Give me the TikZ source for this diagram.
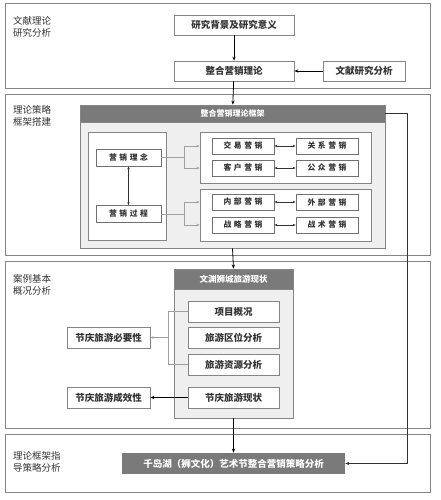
\documentclass[tikz,border=0pt]{standalone}
\usepackage{fontspec}
\setmainfont{Noto Sans CJK SC}
\usetikzlibrary{arrows.meta}
\definecolor{bord}{HTML}{858585}
\definecolor{sbord}{HTML}{707070}
\definecolor{txt}{HTML}{333333}
\definecolor{head}{HTML}{7a7a7a}
\definecolor{body}{HTML}{efefef}
\definecolor{fork}{HTML}{a0a0a0}
\newcommand{\myg}{\kern2.6pt}
\begin{document}
\begin{tikzpicture}[x=1pt,y=-1pt,
  font=\fontsize{9.5}{12}\selectfont, text=txt,
  secbox/.style={draw=bord, line width=0.8pt, rectangle, inner sep=0pt, minimum width=425pt},
  seclabel/.style={anchor=north west, align=left, inner sep=0pt, font=\fontsize{9.5}{12}\selectfont},
  wbox/.style={draw=bord, fill=white, line width=0.7pt, rectangle, inner sep=0pt, font=\fontsize{9.5}{12}\selectfont\bfseries},
  panel/.style={draw=bord, fill=body, line width=0.7pt, rectangle, inner sep=0pt},
  headbox/.style={draw=bord, fill=head, line width=0.7pt, rectangle, inner sep=0pt, text=white},
  smallbox/.style={wbox, draw=sbord, minimum width=62pt, minimum height=16pt, font=\fontsize{7.8}{9}\selectfont\bfseries},
  arr/.style={-{Stealth[length=4pt,width=3.2pt]}, line width=0.8pt, draw=black},
  garr/.style={-{Stealth[length=3.2pt,width=2.6pt]}, line width=0.9pt, draw=fork},
  darr/.style={{Stealth[length=3pt,width=2.4pt]}-{Stealth[length=3pt,width=2.4pt]}, line width=0.6pt, draw=txt},
  glin/.style={line width=0.9pt, draw=fork}
]
\useasboundingbox (0,0) rectangle (440,500);

% sections
\node[secbox, minimum height=85pt] (s1) at (217.5,45.5) {};
\node[secbox, minimum height=161pt] (s2) at (217.5,174.5) {};
\node[secbox, minimum height=167pt] (s3) at (217.5,344.5) {};
\node[secbox, minimum height=58pt] (s4) at (217.5,463) {};
\node[seclabel] (l1) at (13,16) {文献理论\\研究分析};
\node[seclabel] (l2) at (13,105) {理论策略\\框架搭建};
\node[seclabel] (l3) at (13,274) {案例基本\\概况分析};
\node[seclabel] (l4) at (13,451) {理论框架指\\导策略分析};

% section 1
\node[wbox, minimum width=120pt, minimum height=20pt] (bg) at (234,25) {研究背景及研究意义};
\node[wbox, minimum width=120pt, minimum height=20pt] (zh) at (234,71) {整合营销理论};
\node[wbox, minimum width=82pt, minimum height=20pt] (wx) at (364,71) {文献研究分析};
\draw[arr] (bg) -- (zh);
\draw[arr] (wx) -- (zh);

% section 2
\node[panel, minimum width=305pt, minimum height=143pt] (p1) at (232.5,176.5) {};
\node[headbox, minimum width=305pt, minimum height=17pt, font=\fontsize{8}{10}\selectfont\bfseries] (h1) at (232.5,113.5) {整合营销理论框架};
\node[wbox, minimum width=78pt, minimum height=108pt] (lb) at (127,186) {};
\node[wbox, draw=sbord, minimum width=65pt, minimum height=17pt, font=\fontsize{7.8}{9}\selectfont\bfseries] (ln) at (128.5,157.5) {营\myg 销\myg 理\myg 念};
\node[wbox, draw=sbord, minimum width=65pt, minimum height=17pt, font=\fontsize{7.8}{9}\selectfont\bfseries] (gc) at (128.5,214) {营\myg 销\myg 过\myg 程};
\draw[darr] (ln) -- (gc);
\node[wbox, minimum width=171pt, minimum height=51pt] (ru) at (285.5,157.5) {};
\node[wbox, minimum width=171pt, minimum height=52pt] (rl) at (285.5,215) {};
\node[smallbox] (jy) at (243,146) {交\myg 易\myg 营\myg 销};
\node[smallbox] (gx) at (327,146) {关\myg 系\myg 营\myg 销};
\node[smallbox] (kh) at (243,168) {客\myg 户\myg 营\myg 销};
\node[smallbox] (gz) at (327,168) {公\myg 众\myg 营\myg 销};
\node[smallbox] (nb) at (243,202) {内\myg 部\myg 营\myg 销};
\node[smallbox] (wb) at (327,202) {外\myg 部\myg 营\myg 销};
\node[smallbox] (zl) at (243,225) {战\myg 略\myg 营\myg 销};
\node[smallbox] (zs) at (327,225) {战\myg 术\myg 营\myg 销};
\draw[darr] (jy) -- (gx);
\draw[darr] (kh) -- (gz);
\draw[darr] (nb) -- (wb);
\draw[darr] (zl) -- (zs);
\coordinate (f1) at (184,157.5);
\coordinate (f2) at (184,214);
\draw[glin] (ln.east) -- (f1);
\draw[garr] (f1) |- (ru.west |- jy.west);
\draw[garr] (f1) |- (ru.west |- kh.west);
\draw[glin] (gc.east) -- (f2);
\draw[garr] (f2) |- (rl.west |- nb.west);
\draw[garr] (f2) |- (rl.west |- zl.west);
\draw[arr] (zh) -- (h1);

% section 3
\node[panel, minimum width=119pt, minimum height=149pt] (p2) at (233.5,343.5) {};
\node[headbox, minimum width=119pt, minimum height=20pt, font=\fontsize{8.5}{10}\selectfont\bfseries] (h2) at (233.5,279) {文渊狮城旅游现状};
\node[wbox, minimum width=91pt, minimum height=21pt] (xm) at (233.5,311.5) {项目概况};
\node[wbox, minimum width=91pt, minimum height=21pt] (qw) at (233.5,338) {旅游区位分析};
\node[wbox, minimum width=91pt, minimum height=21pt] (zy) at (233.5,364.5) {旅游资源分析};
\node[wbox, minimum width=91pt, minimum height=21pt] (xz) at (233.5,397.5) {节庆旅游现状};
\node[wbox, minimum width=83pt, minimum height=21pt] (by) at (108.5,337.5) {节庆旅游必要性};
\node[wbox, minimum width=83pt, minimum height=21pt] (cx) at (108.5,397.5) {节庆旅游成效性};
\coordinate (f3) at (168,311.5);
\coordinate (f4) at (168,364.5);
\coordinate (f5) at (168,337.5);
\draw[glin] (xm.west) -- (f3) -- (f4) -- (zy.west);
\draw[garr] (f5) -- (by.east);
\draw[arr] (xz) -- (cx);
\draw[arr] (p1.south) -- (h2.north);

% section 4
\node[headbox, draw=none, fill=head, minimum width=223pt, minimum height=21pt, font=\fontsize{9.5}{11}\selectfont\bfseries] (fin) at (233.5,463.5) {千岛湖（狮文化）艺术节整合营销策略分析};
\draw[arr] (p2.south) -- (fin.north);
\coordinate (r1) at (407,113.5);
\coordinate (r2) at (407,463.5);
\draw[arr, line width=0.7pt, draw=txt] (h1.east) -- (r1) -- (r2) -- (fin.east);
\end{tikzpicture}
\end{document}
